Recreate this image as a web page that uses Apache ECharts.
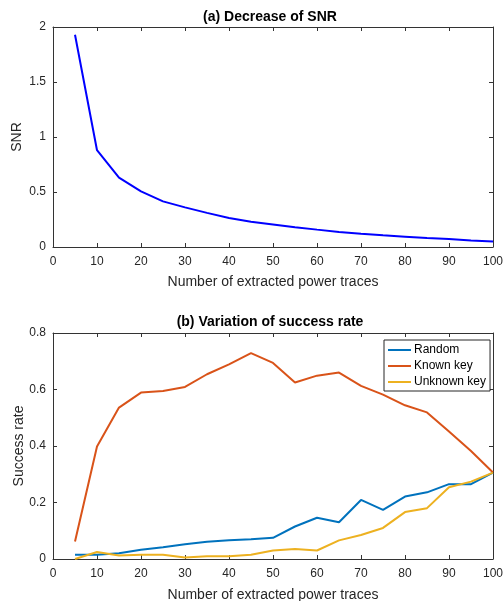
<!DOCTYPE html>
<html>
<head>
<meta charset="utf-8">
<script src="https://cdn.jsdelivr.net/npm/echarts@6/dist/echarts.min.js"></script>
<style>html,body{margin:0;padding:0;background:#fff}#c{width:504px;height:601px}</style>
</head>
<body>
<div id="c"></div>
<script>
var traces = [5,10,15,20,25,30,35,40,45,50,55,60,65,70,75,80,85,90,95,100];
var snr = [1.93,0.88,0.63,0.505,0.415,0.36,0.31,0.264,0.23,0.205,0.18,0.158,0.137,0.121,0.106,0.094,0.082,0.072,0.06,0.049];
var randomRate = [0.015,0.015,0.02,0.033,0.042,0.052,0.061,0.066,0.07,0.075,0.115,0.146,0.13,0.209,0.174,0.221,0.236,0.265,0.265,0.306];
var knownKey = [0.062,0.398,0.536,0.589,0.595,0.609,0.654,0.689,0.729,0.694,0.625,0.649,0.66,0.613,0.582,0.544,0.519,0.451,0.382,0.306];
var unknownKey = [0.0,0.025,0.012,0.015,0.015,0.005,0.01,0.01,0.015,0.03,0.035,0.03,0.066,0.085,0.11,0.166,0.18,0.254,0.274,0.306];
var seriesNames = ['Random','Known key','Unknown key'];
var xLabel = 'Number of extracted power traces';

function pairs(vals){ return traces.map(function(t,i){return [t, vals[i]];}); }

var axCol = '#333333';
var FONT = 'Liberation Sans, Arial, sans-serif';
function xAx(grid, pos, showLabels, gap){
  return {type:'value', gridIndex:grid, position:pos, min:0, max:100, interval:10,
    axisLine:{show:true, onZero:false, lineStyle:{color:axCol, width:1}},
    axisTick:{show:true, inside:true, length:4, lineStyle:{color:axCol}},
    axisLabel:{show:showLabels, color:'#262626', fontFamily:FONT, fontSize:12, margin:9},
    splitLine:{show:false},
    name: showLabels ? xLabel : '', nameLocation:'middle', nameGap:gap || 27,
    nameTextStyle:{color:'#262626', fontFamily:FONT, fontSize:14}};
}
function yAx(grid, pos, showLabels, max, interval, name, gap){
  return {type:'value', gridIndex:grid, position:pos, min:0, max:max, interval:interval,
    axisLine:{show:true, onZero:false, lineStyle:{color:axCol, width:1}},
    axisTick:{show:true, inside:true, length:4, lineStyle:{color:axCol}},
    axisLabel:{show:showLabels, color:'#262626', fontFamily:FONT, fontSize:12, margin:7},
    splitLine:{show:false},
    name: showLabels ? name : '', nameLocation:'middle', nameGap:gap || 20, nameRotate:90,
    nameMoveOverlap:false,
    nameTextStyle:{color:'#262626', fontFamily:FONT, fontSize:14}};
}

var chart = echarts.init(document.getElementById('c'), null, {renderer:'canvas'});
chart.setOption({
  animation:false,
  backgroundColor:'#fff',
  title:[
    {text:'(a) Decrease of SNR', left:270, top:10, textAlign:'center', padding:0,
     textStyle:{fontFamily:FONT, fontSize:14, fontWeight:'bold', color:'#000'}},
    {text:'(b) Variation of success rate', left:270, top:315, textAlign:'center', padding:0,
     textStyle:{fontFamily:FONT, fontSize:14, fontWeight:'bold', color:'#000'}}
  ],
  grid:[
    {left:53, right:11, top:27, height:220, containLabel:false, outerBoundsMode:'none'},
    {left:53, right:11, top:333, height:226, containLabel:false, outerBoundsMode:'none'}
  ],
  xAxis:[ xAx(0,'bottom',true,28), xAx(0,'top',false), xAx(1,'bottom',true,29), xAx(1,'top',false) ],
  yAxis:[ yAx(0,'left',true,2,0.5,'SNR',29), yAx(0,'right',false,2,0.5,''),
          yAx(1,'left',true,0.8,0.2,'Success rate',27), yAx(1,'right',false,0.8,0.2,'') ],
  legend:{
    data:seriesNames, orient:'vertical', left:384, top:340,
    backgroundColor:'#fff', borderColor:'#262626', borderWidth:1, borderRadius:0,
    padding:[4,4,3,4], itemGap:4, itemWidth:23, itemHeight:2, icon:'rect',
    textStyle:{fontFamily:FONT, fontSize:12, color:'#000', padding:[0,0,0,-2]}
  },
  series:[
    {name:'SNR', type:'line', xAxisIndex:0, yAxisIndex:0, data:pairs(snr), showSymbol:false,
     lineStyle:{color:'#0000ff', width:2}, itemStyle:{color:'#0000ff'}},
    {name:'Random', type:'line', xAxisIndex:2, yAxisIndex:2, data:pairs(randomRate), showSymbol:false,
     lineStyle:{color:'#0072BD', width:2}, itemStyle:{color:'#0072BD'}},
    {name:'Known key', type:'line', xAxisIndex:2, yAxisIndex:2, data:pairs(knownKey), showSymbol:false,
     lineStyle:{color:'#D95319', width:2}, itemStyle:{color:'#D95319'}},
    {name:'Unknown key', type:'line', xAxisIndex:2, yAxisIndex:2, data:pairs(unknownKey), showSymbol:false,
     lineStyle:{color:'#EDB120', width:2}, itemStyle:{color:'#EDB120'}}
  ]
});
</script>
</body>
</html>
